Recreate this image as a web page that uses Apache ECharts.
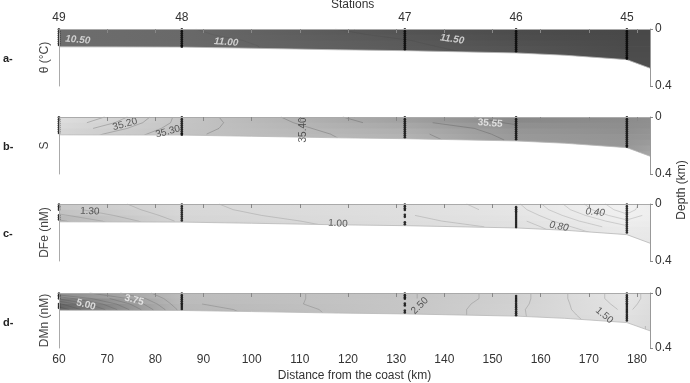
<!DOCTYPE html>
<html>
<head>
<meta charset="utf-8">
<script src="https://cdn.jsdelivr.net/npm/echarts@6/dist/echarts.min.js"></script>
<style>html,body{margin:0;background:#fff}#chart{width:690px;height:383px}</style>
</head>
<body>
<div id="chart"></div>
<script>
var FONT = "'Liberation Sans', Arial, sans-serif";

// stations along the section
var stationKm = [60, 85.5, 131.8, 154.9, 177.9];
var stationNames = ['49', '48', '47', '46', '45'];
var distTicks = [60, 70, 80, 90, 100, 110, 120, 130, 140, 150, 160, 170, 180];
var depthTicks = [0, 0.4];

// bottom of the section (km, depth km)
var bottomKm = [60, 85.5, 100, 118, 131.8, 154.9, 165, 177.9, 182.7];
var bottomDepth = [0.125, 0.127, 0.135, 0.146, 0.152, 0.168, 0.184, 0.215, 0.275];

// gridded fields: one column per gridKm, one value per gridDepth
var gridKm = [60, 85.5, 131.8, 154.9, 177.9, 182.7];
var gridDepth = [0, 0.04, 0.08, 0.12, 0.16, 0.20, 0.24, 0.28];

var thetaGrid = [
  [10.50, 10.50, 10.47, 10.45, 10.45, 10.45, 10.45, 10.45],
  [10.95, 10.90, 10.82, 10.78, 10.78, 10.78, 10.78, 10.78],
  [11.75, 11.62, 11.48, 11.42, 11.40, 11.40, 11.40, 11.40],
  [12.00, 11.95, 11.85, 11.72, 11.60, 11.60, 11.60, 11.60],
  [12.10, 12.10, 12.06, 12.02, 11.98, 11.92, 11.90, 11.90],
  [12.10, 12.10, 12.06, 12.02, 11.98, 11.92, 11.90, 11.90]
];
var salGrid = [
  [35.05, 35.10, 35.15, 35.20, 35.22, 35.22, 35.22, 35.22],
  [35.32, 35.32, 35.33, 35.34, 35.35, 35.35, 35.35, 35.35],
  [35.50, 35.48, 35.45, 35.43, 35.42, 35.42, 35.42, 35.42],
  [35.58, 35.56, 35.53, 35.52, 35.51, 35.51, 35.51, 35.51],
  [35.56, 35.56, 35.55, 35.54, 35.53, 35.52, 35.52, 35.52],
  [35.55, 35.55, 35.54, 35.53, 35.52, 35.50, 35.48, 35.46]
];
var dfeGrid = [
  [1.30, 1.34, 1.42, 1.52, 1.58, 1.58, 1.58, 1.58],
  [1.12, 1.13, 1.15, 1.18, 1.20, 1.20, 1.20, 1.20],
  [1.00, 1.00, 1.01, 1.03, 1.05, 1.05, 1.05, 1.05],
  [0.82, 0.85, 0.90, 0.94, 0.98, 1.00, 1.00, 1.00],
  [0.30, 0.34, 0.42, 0.52, 0.62, 0.70, 0.70, 0.70],
  [0.50, 0.50, 0.54, 0.60, 0.68, 0.74, 0.78, 0.80]
];
var dmnGrid = [
  [4.00, 4.70, 5.30, 5.70, 5.80, 5.80, 5.80, 5.80],
  [3.00, 3.00, 3.05, 3.15, 3.20, 3.20, 3.20, 3.20],
  [2.55, 2.55, 2.50, 2.50, 2.50, 2.50, 2.50, 2.50],
  [2.10, 2.10, 2.08, 2.05, 2.05, 2.05, 2.05, 2.05],
  [1.35, 1.35, 1.40, 1.45, 1.50, 1.55, 1.55, 1.55],
  [1.60, 1.60, 1.62, 1.65, 1.70, 1.75, 1.80, 1.80]
];

// contour levels drawn as thin lines
var thetaLevels = [11.0, 11.5];
var salLevels = [35.05, 35.10, 35.15, 35.20, 35.25, 35.30, 35.35, 35.40, 35.45, 35.50, 35.55];
var dfeLevels = [0.3, 0.4, 0.5, 0.6, 0.7, 0.8, 0.9, 1.0, 1.1, 1.2, 1.3, 1.4, 1.5];
var dmnLevels = [1.5, 1.75, 2.0, 2.25, 2.5, 2.75, 3.0, 3.25, 3.5, 3.75, 4.0, 4.25, 4.5, 4.75, 5.0, 5.25, 5.5];

// sample depths (km) at each station
var ctdDepths = [
  [0.002, 0.016, 0.030, 0.044, 0.058, 0.072, 0.086, 0.100, 0.112],
  [0.002, 0.016, 0.030, 0.044, 0.058, 0.072, 0.086, 0.100, 0.114, 0.124],
  [0.002, 0.016, 0.030, 0.044, 0.058, 0.072, 0.086, 0.100, 0.114, 0.128, 0.142],
  [0.002, 0.016, 0.030, 0.044, 0.058, 0.072, 0.086, 0.100, 0.114, 0.128, 0.142, 0.156],
  [0.002, 0.016, 0.030, 0.044, 0.058, 0.072, 0.086, 0.100, 0.114, 0.128, 0.142, 0.156, 0.170, 0.184, 0.198, 0.208]
];
var bottleDepths = [
  [0.004, 0.016, 0.028, 0.040, 0.080, 0.094, 0.108],
  [0.004, 0.018, 0.032, 0.046, 0.060, 0.074, 0.088, 0.102, 0.116],
  [0.004, 0.016, 0.030, 0.042, 0.076, 0.090, 0.128, 0.142],
  [0.022, 0.036, 0.050, 0.064, 0.078, 0.092, 0.106, 0.120, 0.134, 0.148, 0.162],
  [0.004, 0.018, 0.032, 0.046, 0.060, 0.074, 0.088, 0.102, 0.116, 0.130, 0.144, 0.158, 0.172, 0.186, 0.200]
];

// contour labels
var thetaLabels = ['10.50', '11.00', '11.50'];
var thetaLabelKm = [63.9, 94.7, 141.6];
var thetaLabelDepth = [0.077, 0.093, 0.072];
var salLabels = ['35.20', '35.30', '35.40', '35.55'];
var salLabelKm = [73.7, 82.6, 110.7, 149.5];
var salLabelDepth = [0.051, 0.103, 0.091, 0.044];
var dfeLabels = ['1.30', '1.00', '0.80', '0.40'];
var dfeLabelKm = [66.4, 117.9, 163.8, 171.3];
var dfeLabelDepth = [0.052, 0.137, 0.158, 0.059];
var dmnLabels = ['5.00', '3.75', '2.50', '1.50'];
var dmnLabelKm = [65.6, 75.6, 134.9, 173.2];
var dmnLabelDepth = [0.086, 0.051, 0.093, 0.163];

// grey ramps (value -> grey level)
var thetaRamp = [[10.4, 110], [11.0, 104], [11.3, 94], [11.6, 86], [12.1, 72]];
var salRamp = [[35.0, 228], [35.2, 212], [35.3, 200], [35.4, 186], [35.5, 158], [35.6, 128]];
var dfeRamp = [[0.2, 244], [0.6, 236], [0.9, 228], [1.1, 218], [1.3, 202], [1.6, 172]];
var dmnRamp = [[1.3, 230], [2.0, 212], [2.5, 198], [3.0, 188], [3.75, 160], [5.0, 118], [5.8, 92]];

function grey(ramp, v) {
  var l = ramp[ramp.length - 1][1];
  if (v <= ramp[0][0]) l = ramp[0][1];
  else {
    for (var i = 1; i < ramp.length; i++) {
      if (v <= ramp[i][0]) {
        var t = (v - ramp[i - 1][0]) / (ramp[i][0] - ramp[i - 1][0]);
        l = ramp[i - 1][1] + t * (ramp[i][1] - ramp[i - 1][1]);
        break;
      }
    }
  }
  l = Math.round(l);
  return 'rgb(' + l + ',' + l + ',' + l + ')';
}

var panels = [
  {letter: 'a-', name: 'θ (°C)', field: thetaGrid, ramp: thetaRamp, samples: ctdDepths,
   levels: thetaLevels, lineColor: 'rgba(0,0,0,0.10)',
   labels: thetaLabels, labelKm: thetaLabelKm, labelDepth: thetaLabelDepth,
   labelStyle: [[-5, '#e8e8e8', 'bold', 'italic'], [-5, '#e8e8e8', 'bold', 'italic'], [-8, '#e8e8e8', 'bold', 'italic']]},
  {letter: 'b-', name: 'S', field: salGrid, ramp: salRamp, samples: ctdDepths,
   levels: salLevels, lineColor: 'rgba(60,60,60,0.45)',
   labels: salLabels, labelKm: salLabelKm, labelDepth: salLabelDepth,
   labelStyle: [[15, '#333', 'normal', 'normal'], [15, '#333', 'normal', 'normal'], [90, '#333', 'normal', 'normal'], [-5, '#f2f2f2', 'bold', 'normal']]},
  {letter: 'c-', name: 'DFe (nM)', field: dfeGrid, ramp: dfeRamp, samples: bottleDepths,
   levels: dfeLevels, lineColor: 'rgba(80,80,80,0.35)',
   labels: dfeLabels, labelKm: dfeLabelKm, labelDepth: dfeLabelDepth,
   labelStyle: [[-3, '#333', 'normal', 'normal'], [-3, '#333', 'normal', 'normal'], [-10, '#333', 'normal', 'italic'], [-5, '#333', 'normal', 'italic']]},
  {letter: 'd-', name: 'DMn (nM)', field: dmnGrid, ramp: dmnRamp, samples: bottleDepths,
   levels: dmnLevels, lineColor: 'rgba(60,60,60,0.35)',
   labels: dmnLabels, labelKm: dmnLabelKm, labelDepth: dmnLabelDepth,
   labelStyle: [[-15, '#f2f2f2', 'bold', 'normal'], [-15, '#f2f2f2', 'bold', 'normal'], [45, '#333', 'normal', 'normal'], [-40, '#333', 'normal', 'normal']]}
];

var TOPS = [29, 117, 204, 293];
var H = 57;
var XMAX = 182.7;

var option = {
  animation: false,
  textStyle: {fontFamily: FONT},
  grid: [], xAxis: [], yAxis: [], series: [],
  graphic: [
    {type: 'text', left: 331, top: -1, style: {text: 'Stations', fontSize: 12, fill: '#333', fontFamily: FONT}},
    {type: 'text', x: 682, y: 190, rotation: Math.PI / 2, style: {text: 'Depth (km)', fontSize: 12, fill: '#333', fontFamily: FONT, align: 'center', verticalAlign: 'middle'}}
  ]
};

function cellRenderer(p) {
  return function (params, api) {
    var i = api.value(2), j = api.value(3);
    var p0 = api.coord([gridKm[i], gridDepth[j]]);
    var p1 = api.coord([gridKm[i + 1], gridDepth[j + 1]]);
    var f = p.field;
    var vl = (f[i][j] + f[i][j + 1]) / 2;
    var vr = (f[i + 1][j] + f[i + 1][j + 1]) / 2;
    return {
      type: 'rect',
      shape: {x: p0[0], y: p0[1], width: p1[0] - p0[0] + 0.8, height: p1[1] - p0[1] + 0.8},
      style: {fill: {type: 'linear', x: 0, y: 0, x2: 1, y2: 0,
        colorStops: [{offset: 0, color: grey(p.ramp, vl)}, {offset: 1, color: grey(p.ramp, vr)}]}}
    };
  };
}

// marching squares on one grid cell, one segment set per level
function contourRenderer(p) {
  return function (params, api) {
    var i = api.value(2), j = api.value(3), f = p.field;
    var c = [[gridKm[i], gridDepth[j], f[i][j]], [gridKm[i + 1], gridDepth[j], f[i + 1][j]],
             [gridKm[i + 1], gridDepth[j + 1], f[i + 1][j + 1]], [gridKm[i], gridDepth[j + 1], f[i][j + 1]]];
    var children = [];
    p.levels.forEach(function (L) {
      var pts = [];
      for (var e = 0; e < 4; e++) {
        var a = c[e], b = c[(e + 1) % 4];
        if ((a[2] - L) * (b[2] - L) < 0) {
          var t = (L - a[2]) / (b[2] - a[2]);
          pts.push(api.coord([a[0] + t * (b[0] - a[0]), a[1] + t * (b[1] - a[1])]));
        }
      }
      for (var k = 0; k + 1 < pts.length; k += 2) {
        children.push({type: 'line', shape: {x1: pts[k][0], y1: pts[k][1], x2: pts[k + 1][0], y2: pts[k + 1][1]},
          style: {stroke: p.lineColor, lineWidth: 0.6}});
      }
    });
    return {type: 'group', children: children};
  };
}

var cellData = [];
for (var i = 0; i < gridKm.length - 1; i++) {
  for (var j = 0; j < gridDepth.length - 1; j++) cellData.push([gridKm[i], gridDepth[j], i, j]);
}
var bottomLine = bottomKm.map(function (x, i) { return [x, bottomDepth[i]]; });

panels.forEach(function (p, k) {
  option.grid.push({left: 59, right: 40, top: TOPS[k], height: H});
  option.xAxis.push({
    gridIndex: k, type: 'value', min: 60, max: XMAX, position: 'bottom', z: 10,
    axisLine: {show: true, lineStyle: {color: '#999', width: 1}},
    axisTick: {show: true, customValues: distTicks, length: 4, lineStyle: {color: '#888'}},
    axisLabel: {show: k === 3, customValues: distTicks, color: '#333', fontSize: 12, margin: 6},
    splitLine: {show: false},
    name: k === 3 ? 'Distance from the coast (km)' : '', nameLocation: 'middle', nameGap: 22,
    nameTextStyle: {fontSize: 12, color: '#333'}
  });
  option.xAxis.push({
    gridIndex: k, type: 'value', min: 60, max: XMAX, position: 'top', z: 10,
    axisLine: {show: true, lineStyle: {color: '#aaa', width: 1}},
    axisTick: {show: false},
    axisLabel: {show: k === 0, customValues: stationKm, color: '#333', fontSize: 12, margin: 5,
      formatter: function (v) {
        for (var s = 0; s < stationKm.length; s++) if (Math.abs(stationKm[s] - v) < 0.01) return stationNames[s];
        return '';
      }},
    splitLine: {show: false}
  });
  option.yAxis.push({
    gridIndex: k, type: 'value', min: 0, max: 0.4, inverse: true, position: 'left', z: 10,
    axisLine: {show: true, lineStyle: {color: '#aaa'}},
    axisTick: {show: false}, axisLabel: {show: false}, splitLine: {show: false},
    name: p.name, nameLocation: 'middle', nameGap: 8,
    nameTextStyle: {fontSize: 12, color: '#444'}
  });
  option.yAxis.push({
    gridIndex: k, type: 'value', min: 0, max: 0.4, inverse: true, position: 'right', z: 10,
    axisLine: {show: true, lineStyle: {color: '#999'}},
    axisTick: {show: true, customValues: depthTicks, length: 3, lineStyle: {color: '#888'}},
    axisLabel: {customValues: depthTicks, color: '#333', fontSize: 12, margin: 5},
    splitLine: {show: false}
  });

  var xi = 2 * k, yi = 2 * k;
  option.series.push({
    type: 'custom', xAxisIndex: xi, yAxisIndex: yi, z: 1, silent: true,
    data: cellData, encode: {x: 0, y: 1}, renderItem: cellRenderer(p)
  });
  option.series.push({
    type: 'custom', xAxisIndex: xi, yAxisIndex: yi, z: 1.5, silent: true,
    data: cellData, encode: {x: 0, y: 1}, renderItem: contourRenderer(p)
  });
  option.series.push({
    type: 'line', xAxisIndex: xi, yAxisIndex: yi, z: 2, silent: true,
    data: bottomLine, symbol: 'none',
    lineStyle: {color: '#b8b8b8', width: 0.8},
    areaStyle: {color: '#fff', opacity: 1, origin: 'end'}
  });
  var dots = [];
  stationKm.forEach(function (x, s) {
    p.samples[s].forEach(function (d) { dots.push([x, d]); });
  });
  option.series.push({
    type: 'scatter', xAxisIndex: xi, yAxisIndex: yi, z: 3, silent: true,
    data: dots, symbol: 'circle', symbolSize: 2.6, itemStyle: {color: '#000'}
  });
  option.series.push({
    type: 'scatter', xAxisIndex: xi, yAxisIndex: yi, z: 4, silent: true,
    symbol: 'circle', symbolSize: 1, itemStyle: {color: 'rgba(0,0,0,0)'},
    data: p.labels.map(function (t, m) {
      var st = p.labelStyle[m];
      return {name: t, value: [p.labelKm[m], p.labelDepth[m]],
        label: {rotate: st[0], color: st[1], fontWeight: st[2], fontStyle: st[3]}};
    }),
    label: {show: true, position: 'inside', formatter: '{b}', fontSize: 10, fontFamily: FONT}
  });

  option.graphic.push({type: 'text', left: 3, top: TOPS[k] + H / 2 - 4,
    style: {text: p.letter, fontSize: 11, fontWeight: 'bold', fill: '#222', fontFamily: FONT}});
});

var chart = echarts.init(document.getElementById('chart'));
chart.setOption(option);
</script>
</body>
</html>
